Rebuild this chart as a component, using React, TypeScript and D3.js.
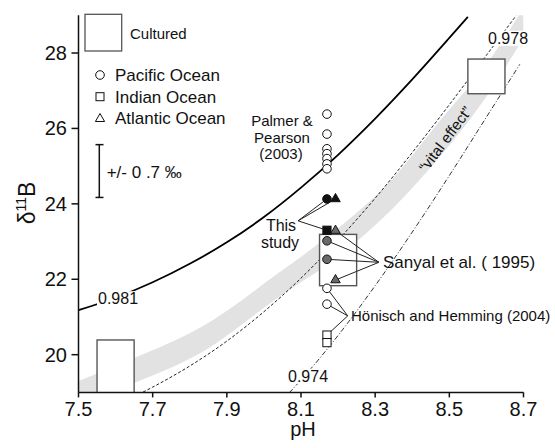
import React from "react";
import * as d3 from "d3";

// Plot frame
const W = 555;
const H = 448;
const X0 = 78.5;
const X1 = 523.5;
const YB = 392.4;
const YT = 15.3;

// Axis ticks
const xTicks = [7.5, 7.7, 7.9, 8.1, 8.3, 8.5, 8.7];
const yTicks = [20, 22, 24, 26, 28];

// Borate δ11B vs pH for three fractionation factors
const a981PH = [7.5, 7.6, 7.7, 7.8, 7.9, 8.0, 8.1, 8.2, 8.3, 8.4, 8.5, 8.55];
const a981D = [21.18, 21.51, 21.92, 22.41, 22.98, 23.65, 24.43, 25.3, 26.26, 27.3, 28.4, 28.96];
const a978PH = [7.65, 7.7, 7.8, 7.9, 8.0, 8.1, 8.2, 8.3, 8.4, 8.5, 8.6, 8.68];
const a978D = [18.89, 19.14, 19.7, 20.36, 21.14, 22.03, 23.04, 24.15, 25.36, 26.63, 27.94, 28.99];
const a974PH = [8.05, 8.1, 8.2, 8.3, 8.4, 8.5, 8.6, 8.69];
const a974D = [18.8, 19.33, 20.51, 21.83, 23.25, 24.75, 26.3, 27.7];

// "vital effect" band
const bandPH = [7.5, 7.65, 7.83, 8.04, 8.2, 8.35, 8.47, 8.6, 8.7];
const bandLo = [18.7, 19.25, 20.05, 21.53, 22.6, 23.9, 25.2, 26.85, 28.4];
const bandHi = [19.3, 19.91, 20.73, 22.17, 23.35, 24.7, 26.15, 27.7, 29.2];

// Cultured ranges [pH min, pH max, δ min, δ max]
const culturedPH0 = [7.55, 8.15, 8.55];
const culturedPH1 = [7.65, 8.25, 8.65];
const culturedD0 = [18.9, 21.83, 26.92];
const culturedD1 = [20.39, 23.19, 27.84];

// Core-top samples
const palmerD = [26.38, 25.85, 25.46, 25.33, 25.2, 25.06, 24.93];
const samplePH = 8.17;
const trianglePH = 8.193;
const studyCircleD = 24.13;
const studyTriangleD = 24.13;
const studySquareD = 23.3;
const sanyalCircleD = [23.02, 22.53];
const sanyalTriangleD = [23.29, 21.98];
const honischCircleD = [21.76, 21.34];
const honischSquareD = [20.52, 20.32];

// Label anchors (pH, δ)
const studyAnchor = [8.092, 23.55];
const sanyalAnchor = [8.31, 22.45];
const honischAnchor = [8.226, 21.03];

// Analytical uncertainty bar (δ centre, half-range)
const errCentre = 24.87;
const errHalf = 0.7;

const FONT = "'Liberation Sans', Arial, Helvetica, sans-serif";

const x = d3.scaleLinear().domain([7.5, 8.7]).range([X0, X1]);
const y = d3.scaleLinear().domain([19, 29]).range([YB, YT]);

const lineGen = d3
  .line<[number, number]>()
  .x((d) => x(d[0]))
  .y((d) => y(d[1]))
  .curve(d3.curveMonotoneX);

const zip = (a: number[], b: number[]) => a.map((v, i) => [v, b[i]] as [number, number]);

const bandArea = d3
  .area<number>()
  .x((_, i) => x(bandPH[i]))
  .y0((_, i) => y(bandLo[i]))
  .y1((_, i) => y(bandHi[i]))
  .curve(d3.curveMonotoneX);

const R = 4.3;

function Circle({ ph, d, fill }: { ph: number; d: number; fill: string }) {
  return <circle cx={x(ph)} cy={y(d)} r={R} fill={fill} stroke="#111" strokeWidth={1} />;
}
function Square({ ph, d, fill }: { ph: number; d: number; fill: string }) {
  const s = 8.2;
  return (
    <rect x={x(ph) - s / 2} y={y(d) - s / 2} width={s} height={s} fill={fill} stroke="#111" strokeWidth={1} />
  );
}
function Tri({ ph, d, fill }: { ph: number; d: number; fill: string }) {
  const cx = x(ph);
  const cy = y(d);
  const s = 9.5;
  const h = s * 0.866;
  const p = `${cx},${cy - (2 * h) / 3} ${cx + s / 2},${cy + h / 3} ${cx - s / 2},${cy + h / 3}`;
  return <polygon points={p} fill={fill} stroke="#111" strokeWidth={1} />;
}

function Connector({ from, to }: { from: number[]; to: number[] }) {
  return (
    <line x1={x(from[0])} y1={y(from[1])} x2={x(to[0])} y2={y(to[1])} stroke="#222" strokeWidth={1} />
  );
}

function Label({ tx, ty, text, size }: { tx: number; ty: number; text: string; size: number }) {
  const w = text.length * size * 0.56;
  return (
    <g>
      <rect x={tx - 1} y={ty - size * 0.8} width={w + 2} height={size * 0.95} fill="#fff" />
      <text x={tx} y={ty} fontSize={size} fontFamily={FONT} fill="#111">
        {text}
      </text>
    </g>
  );
}

export default function App() {
  const gray = "#6a6a6a";
  return (
    <div style={{ position: "absolute", left: 0, top: 0, background: "#fff" }}>
      <svg width={W} height={H} viewBox={`0 0 ${W} ${H}`} style={{ display: "block" }}>
        <defs>
          <clipPath id="plot">
            <rect x={X0} y={YT} width={X1 - X0} height={YB - YT} />
          </clipPath>
        </defs>
        <rect width={W} height={H} fill="#fff" />

        <g clipPath="url(#plot)">
          <path d={bandArea(bandPH) ?? ""} fill="#e2e2e2" />
          <path d={lineGen(zip(a981PH, a981D)) ?? ""} fill="none" stroke="#000" strokeWidth={1.8} />
          <path
            d={lineGen(zip(a978PH, a978D)) ?? ""}
            fill="none"
            stroke="#222"
            strokeWidth={1}
            strokeDasharray="3,2"
          />
          <path
            d={lineGen(zip(a974PH, a974D)) ?? ""}
            fill="none"
            stroke="#333"
            strokeWidth={1}
            strokeDasharray="5,2,1,2"
          />
          {culturedPH0.map((p0, i) => (
            <rect
              key={i}
              x={x(p0)}
              y={y(culturedD1[i])}
              width={x(culturedPH1[i]) - x(p0)}
              height={y(culturedD0[i]) - y(culturedD1[i])}
              fill="#fff"
              stroke="#555"
              strokeWidth={1.4}
            />
          ))}
        </g>

        {/* curve labels */}
        <Label tx={98} ty={304} text="0.981" size={16} />
        <Label tx={488} ty={43.5} text="0.978" size={16} />
        <Label tx={288} ty={381.5} text="0.974" size={16} />
        <text
          transform="translate(445,139) rotate(-53)"
          textAnchor="middle"
          dominantBaseline="central"
          fontSize={15}
          fontFamily={FONT}
          fill="#111"
        >
          “vital effect”
        </text>

        {/* connectors */}
        <Connector from={studyAnchor} to={[samplePH, studyCircleD]} />
        <Connector from={studyAnchor} to={[trianglePH, studyTriangleD]} />
        <Connector from={studyAnchor} to={[samplePH, studySquareD]} />
        <Connector from={sanyalAnchor} to={[trianglePH, sanyalTriangleD[0]]} />
        <Connector from={sanyalAnchor} to={[samplePH, sanyalCircleD[0]]} />
        <Connector from={sanyalAnchor} to={[samplePH, sanyalCircleD[1]]} />
        <Connector from={sanyalAnchor} to={[trianglePH, sanyalTriangleD[1]]} />
        <Connector from={honischAnchor} to={[samplePH, honischCircleD[0]]} />
        <Connector from={honischAnchor} to={[samplePH, honischCircleD[1]]} />
        <Connector from={honischAnchor} to={[samplePH, honischSquareD[0]]} />

        {/* samples */}
        {palmerD.map((d, i) => (
          <Circle key={"p" + i} ph={samplePH} d={d} fill="#fff" />
        ))}
        <Circle ph={samplePH} d={studyCircleD} fill="#111" />
        <Tri ph={trianglePH} d={studyTriangleD} fill="#111" />
        <Square ph={samplePH} d={studySquareD} fill="#111" />
        {sanyalTriangleD.map((d, i) => (
          <Tri key={"st" + i} ph={trianglePH} d={d} fill={gray} />
        ))}
        {sanyalCircleD.map((d, i) => (
          <Circle key={"sc" + i} ph={samplePH} d={d} fill={gray} />
        ))}
        {honischCircleD.map((d, i) => (
          <Circle key={"hc" + i} ph={samplePH} d={d} fill="#fff" />
        ))}
        {honischSquareD.map((d, i) => (
          <Square key={"hs" + i} ph={samplePH} d={d} fill="#fff" />
        ))}

        {/* annotations */}
        <g fontFamily={FONT} fill="#111">
          <text x={282} y={126} fontSize={15} textAnchor="middle">Palmer &amp;</text>
          <text x={282} y={142.5} fontSize={15} textAnchor="middle">Pearson</text>
          <text x={281} y={159} fontSize={15} textAnchor="middle">(2003)</text>
          <text x={281} y={231} fontSize={16} textAnchor="middle">This</text>
          <text x={280} y={248} fontSize={16} textAnchor="middle">study</text>
          <text x={383} y={268} fontSize={17}>Sanyal et al. ( 1995)</text>
          <text x={351} y={320.5} fontSize={15}>Hönisch and Hemming (2004)</text>
        </g>

        {/* legend */}
        <g fontFamily={FONT} fill="#111">
          <rect x={85} y={14.3} width={36.7} height={36.7} fill="#fff" stroke="#555" strokeWidth={1.3} />
          <text x={130} y={38.7} fontSize={15}>Cultured</text>
          <circle cx={100} cy={75} r={4.3} fill="#fff" stroke="#111" />
          <text x={115} y={81} fontSize={17}>Pacific Ocean</text>
          <rect x={96} y={92.7} width={8} height={8} fill="#fff" stroke="#111" />
          <text x={115} y={102.7} fontSize={17}>Indian Ocean</text>
          <polygon points="100,113.5 104.6,121.5 95.4,121.5" fill="#fff" stroke="#111" />
          <text x={115} y={124.3} fontSize={17}>Atlantic Ocean</text>
          <g stroke="#111" strokeWidth={1.5}>
            <line x1={99.3} x2={99.3} y1={y(errCentre + errHalf)} y2={y(errCentre - errHalf)} />
            <line x1={95.5} x2={103.5} y1={y(errCentre + errHalf)} y2={y(errCentre + errHalf)} />
            <line x1={95.5} x2={103.5} y1={y(errCentre - errHalf)} y2={y(errCentre - errHalf)} />
          </g>
          <text x={106.7} y={177.5} fontSize={17}>+/- 0 .7 ‰</text>
        </g>

        {/* axes */}
        <g stroke="#111" strokeWidth={1.5}>
          <line x1={X0} x2={X0} y1={YT} y2={YB} />
          <line x1={X0} x2={X1} y1={YB} y2={YB} />
          {xTicks.map((t) => (
            <line key={t} x1={x(t)} x2={x(t)} y1={YB} y2={YB + 5} />
          ))}
          {yTicks.map((t) => (
            <line key={t} x1={X0 - 7} x2={X0} y1={y(t)} y2={y(t)} />
          ))}
        </g>
        <g fontFamily={FONT} fill="#111" fontSize={20}>
          {xTicks.map((t) => (
            <text key={t} x={x(t)} y={416} textAnchor="middle">
              {t.toFixed(1)}
            </text>
          ))}
          {yTicks.map((t) => (
            <text key={t} x={67} y={y(t) + 7} textAnchor="end">
              {t}
            </text>
          ))}
        </g>
        <text x={303} y={436} fontSize={20} textAnchor="middle" fontFamily={FONT} fill="#111">
          pH
        </text>
        <text
          transform="translate(35,203) rotate(-90)"
          textAnchor="middle"
          fontSize={23}
          fontFamily={FONT}
          fill="#111"
        >
          δ<tspan fontSize={14} dy={-9}>11</tspan>
          <tspan dy={9}>B</tspan>
        </text>
      </svg>
    </div>
  );
}
